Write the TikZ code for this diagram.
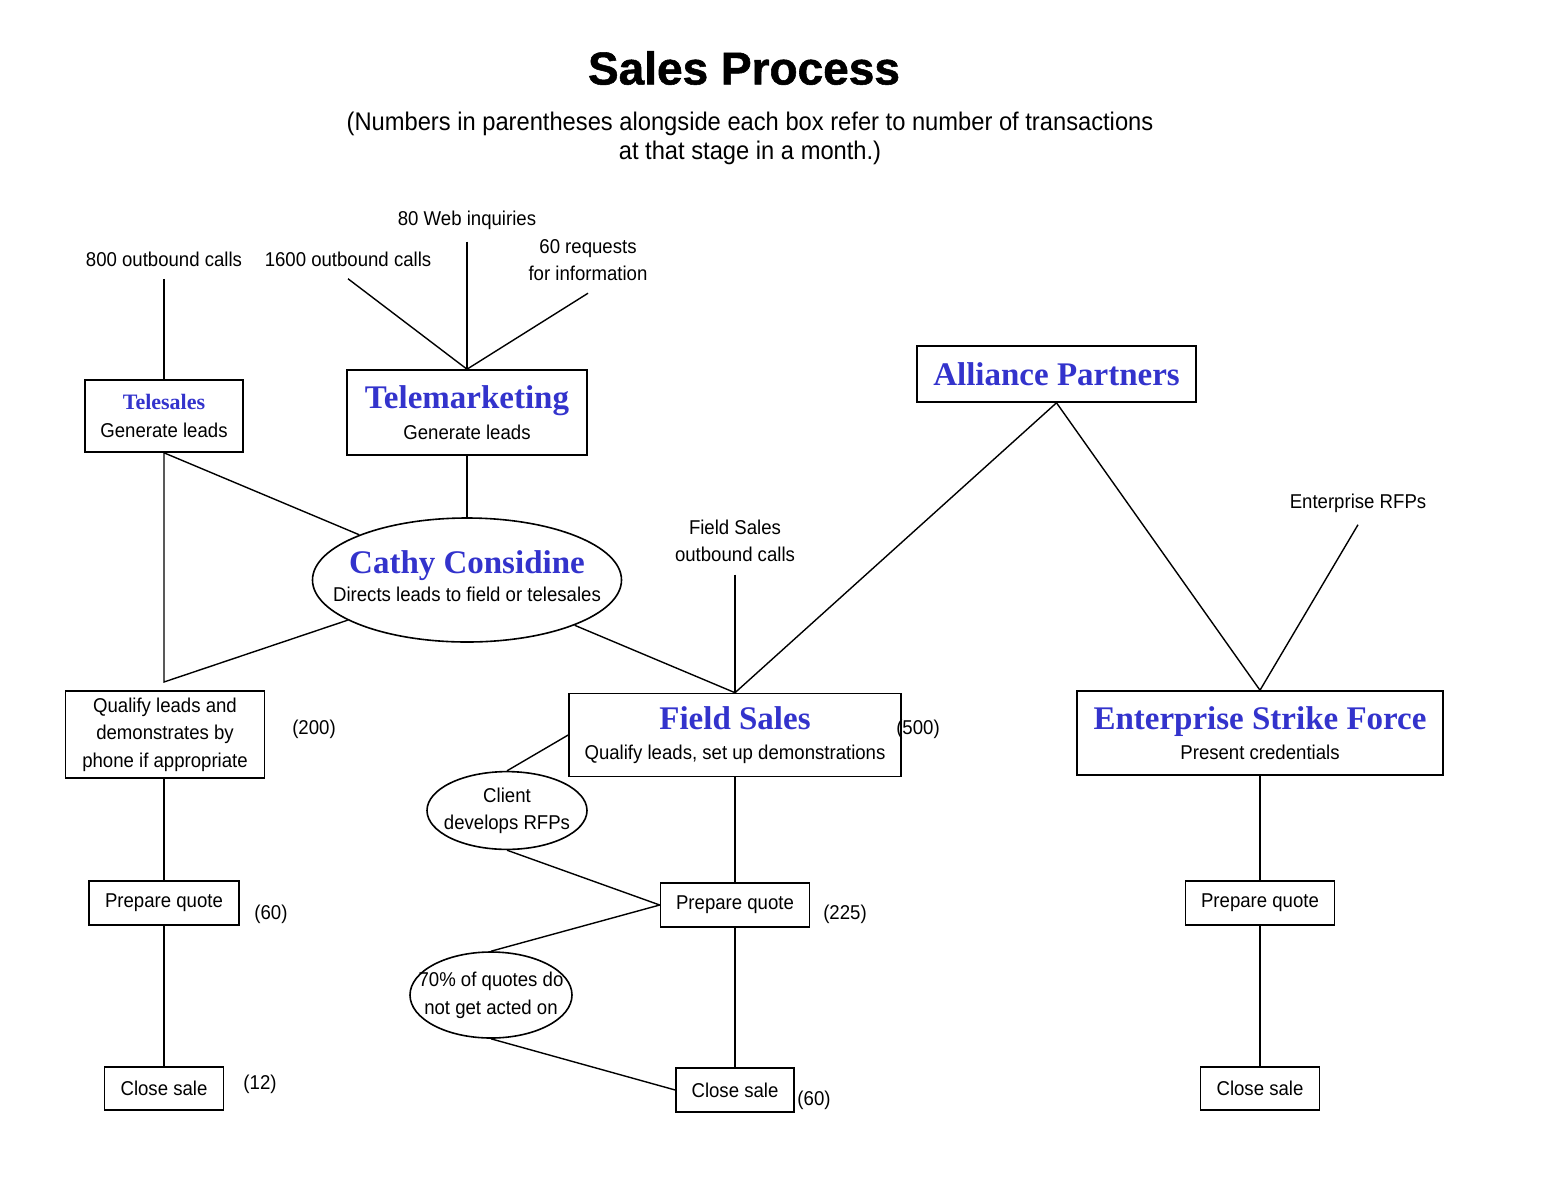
\documentclass[tikz,border=0pt]{standalone}
\usepackage{fontspec}
\setmainfont{Liberation Sans}[FakeStretch=0.93]
\newfontfamily\timesfam{Liberation Serif}
\newfontfamily\heavyfam{Liberation Sans Bold}[FakeBold=1.2]
\usepackage{xcolor}
\usetikzlibrary{shapes.geometric}

\definecolor{titleblue}{RGB}{51,51,204}

\newcommand{\unitname}[1]{{\timesfam\bfseries\fontsize{16.5pt}{18pt}\selectfont\color{titleblue}#1}}
\newcommand{\smallunit}[1]{{\timesfam\bfseries\fontsize{11pt}{13pt}\selectfont\color{titleblue}#1}}
\newcommand{\ovaltext}[1]{\makebox[0pt]{\begin{tabular}{@{}c@{}}#1\end{tabular}}}

\tikzset{
  box/.style={draw,line width=0.8pt,rectangle,inner sep=2pt,align=center},
  oval/.style={draw,line width=0.8pt,ellipse,inner sep=0pt},
  feed/.style={inner sep=6pt,align=center},
  count/.style={inner sep=0pt},
  link/.style={line width=0.7pt}
}

\begin{document}
\begin{tikzpicture}[x=0.5pt,y=0.5pt,font=\fontsize{10pt}{13.75pt}\selectfont]
\useasboundingbox (0,0) rectangle (1542,-1184);

    % heading
    \node (title) at (744,-68) {\heavyfam\fontsize{23pt}{27pt}\selectfont Sales Process};
    \node[align=center,font=\fontsize{12.75pt}{14.5pt}\selectfont] (note) at (750,-138)
        {(Numbers in parentheses alongside each box refer to number of transactions\\
         at that stage in a month.)};

    % lead sources
    \node[feed] (l800) at (164,-259) {800 outbound calls};
    \node[feed] (l1600) at (348,-259) {1600 outbound calls};
    \node[feed] (lweb) at (467,-220) {80 Web inquiries};
    \node[feed] (lreq) at (588,-260) {60 requests\\for information};
    \node[feed] (fso) at (735,-541) {Field Sales\\outbound calls};
    \node[feed] (erfp) at (1358,-503) {Enterprise RFPs};

    % units
    \node[box,minimum width=79pt,minimum height=36pt] (tsales) at (164,-416)
        {\smallunit{Telesales}\\Generate leads};
    \node[box,minimum width=120pt,minimum height=42.5pt] (tmkt) at (467,-412.5)
        {\unitname{Telemarketing}\\[1.5pt]Generate leads};
    \node[box,minimum width=139.5pt,minimum height=28pt] (alliance) at (1056.5,-374)
        {\unitname{Alliance Partners}};
    \node[oval,minimum width=154.5pt,minimum height=62pt] (cathy) at (467,-580)
        {\ovaltext{\unitname{Cathy Considine}\\Directs leads to field or telesales}};
    \coordinate (tsjoin) at (164,-682);

    \node[box,minimum width=99.5pt,minimum height=43.5pt] (qual) at (165,-734.5)
        {Qualify leads and\\demonstrates by\\phone if appropriate};
    \node[box,minimum width=166pt,minimum height=41.5pt] (fs) at (735,-735)
        {\unitname{Field Sales}\\[1.5pt]Qualify leads, set up demonstrations};
    \node[box,minimum width=183pt,minimum height=42pt] (esf) at (1260,-733)
        {\unitname{Enterprise Strike Force}\\[1.5pt]Present credentials};

    \node[oval,minimum width=80pt,minimum height=37.5pt] (client) at (507,-810.5)
        {\ovaltext{Client\\develops RFPs}};
    \node[oval,minimum width=81pt,minimum height=43pt] (pct) at (491,-995)
        {\ovaltext{70\% of quotes do\\not get acted on}};

    \node[box,minimum width=75pt,minimum height=22pt] (pql) at (164,-903) {Prepare quote};
    \node[box,minimum width=74.5pt,minimum height=22pt] (pqm) at (735,-905) {Prepare quote};
    \node[box,minimum width=74.5pt,minimum height=22pt] (pqr) at (1260,-903) {Prepare quote};

    \node[box,minimum width=59.5pt,minimum height=21.5pt] (csl) at (164,-1088.5) {Close sale};
    \node[box,minimum width=59pt,minimum height=22pt] (csm) at (735,-1090) {Close sale};
    \node[box,minimum width=59.5pt,minimum height=21.5pt] (csr) at (1260,-1088.5) {Close sale};

    % monthly counts
    \node[count] (n200) at (314,-729) {(200)};
    \node[count] (n500) at (918,-729) {(500)};
    \node[count] (n60a) at (271,-914) {(60)};
    \node[count] (n225) at (845,-914) {(225)};
    \node[count] (n12) at (260,-1084) {(12)};
    \node[count] (n60b) at (814,-1100) {(60)};

    % connectors
    \begin{scope}[link]
    \draw (l800.south) -- (tsales.north);
    \draw (l1600.south) -- (tmkt.north);
    \draw (lweb.south) -- (tmkt.north);
    \draw (lreq.south) -- (tmkt.north);
    \draw (tsales.south) -- (cathy);
    \draw (tsales.south) -- (tsjoin) -- (cathy);
    \draw (tmkt.south) -- (cathy.north);
    \draw (cathy) -- (fs.north);
    \draw (fso.south) -- (fs.north);
    \draw (alliance.south) -- (fs.north);
    \draw (alliance.south) -- (esf.north);
    \draw (erfp.south) -- (esf.north);

    \draw (fs.west) -- (client.north);
    \draw (client.south) -- (pqm.west);
    \draw (pqm.west) -- (pct.north);
    \draw (pct.south) -- (csm.west);

    \draw (qual.south -| pql.north) -- (pql.north);
    \draw (pql.south) -- (csl.north);
    \draw (fs.south) -- (pqm.north);
    \draw (pqm.south) -- (csm.north);
    \draw (esf.south) -- (pqr.north);
    \draw (pqr.south) -- (csr.north);
    \end{scope}
\end{tikzpicture}
\end{document}
